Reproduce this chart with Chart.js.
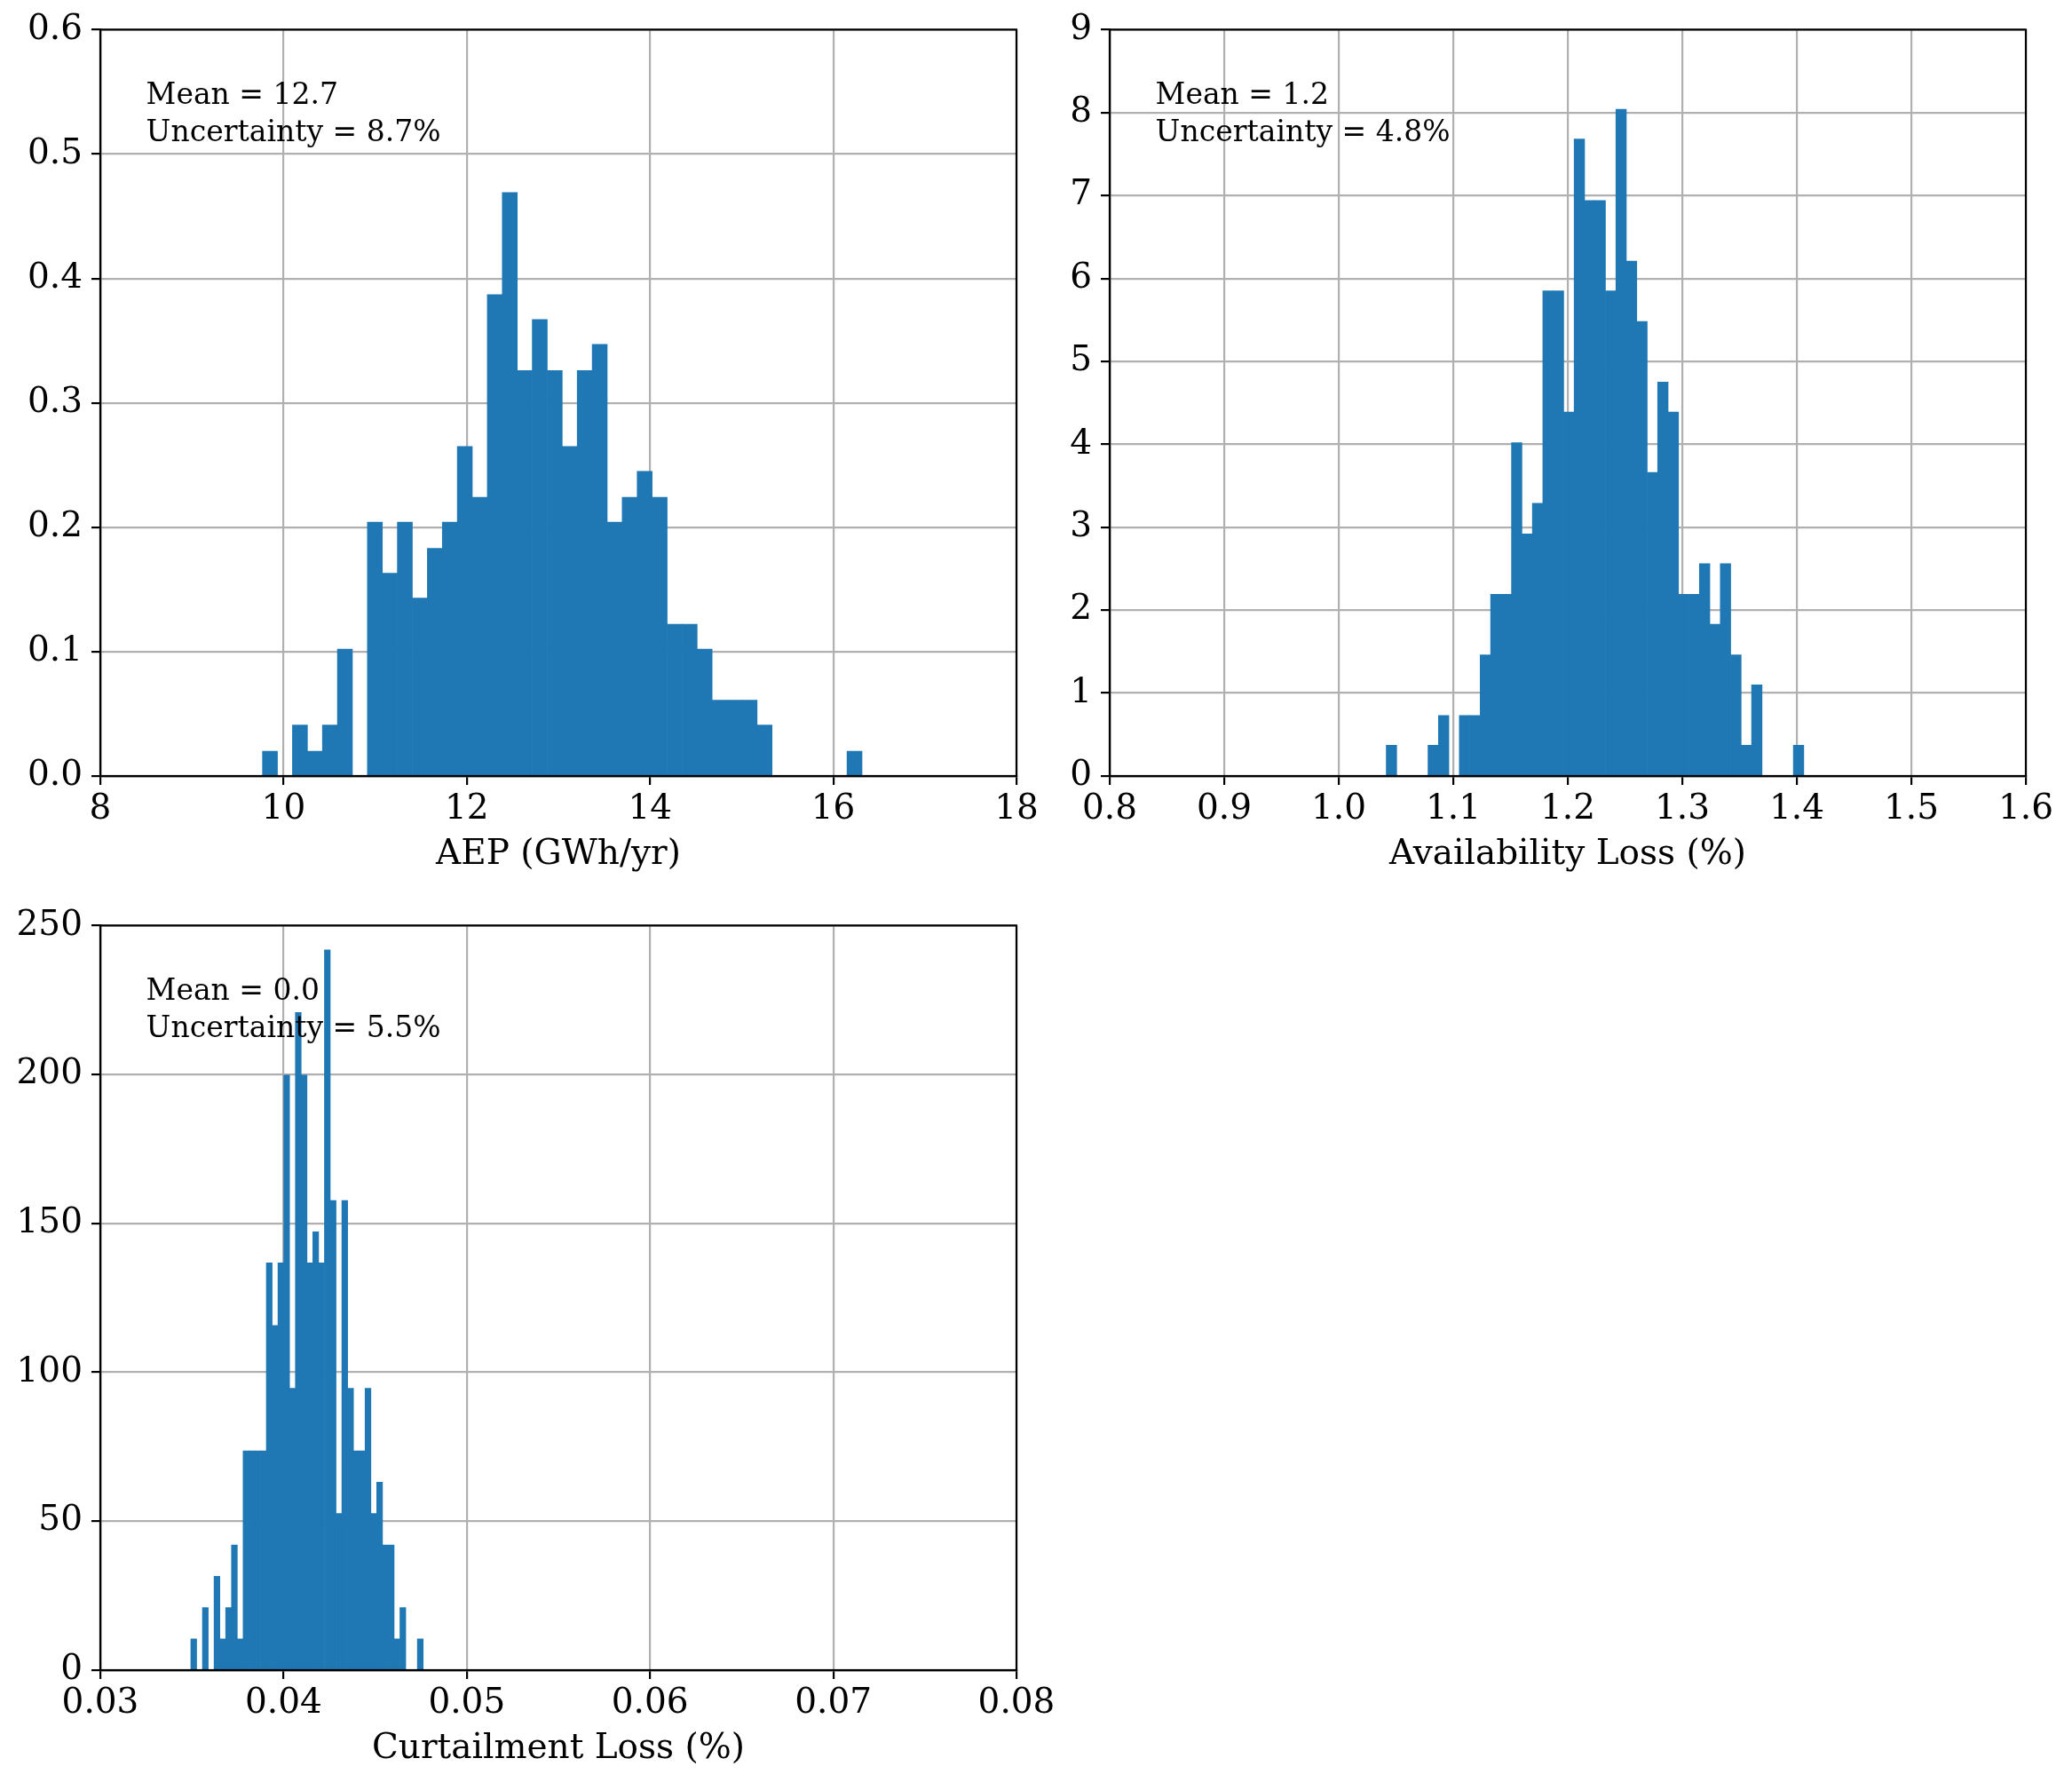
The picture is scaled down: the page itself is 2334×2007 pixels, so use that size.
<!DOCTYPE html>
<html>
<head>
<meta charset="utf-8">
<script src="https://cdn.jsdelivr.net/npm/chart.js@4.4.1/dist/chart.umd.min.js"></script>
<style>
  body { margin: 0; background: #fff; }
  #wrap { position: relative; width: 2334px; height: 2007px; background: #fff; }
  canvas { position: absolute; }
</style>
</head>
<body>
<div id="wrap">
  <canvas id="aep" width="1200" height="1000" style="left:0;top:0"></canvas>
  <canvas id="avail" width="1197" height="1000" style="left:1137px;top:0"></canvas>
  <canvas id="curt" width="1200" height="998" style="left:0;top:1009px"></canvas>
</div>
<script>
// histogram bins: first edge + bin width, then bar heights (density)
const aepStart = 9.77, aepWidth = 0.1636;
const aepHeights = [0.020, 0, 0.041, 0.020, 0.041, 0.102, 0, 0.204, 0.163, 0.204,
  0.143, 0.183, 0.204, 0.265, 0.224, 0.387, 0.469, 0.326, 0.367, 0.326,
  0.265, 0.326, 0.347, 0.204, 0.224, 0.245, 0.224, 0.122, 0.122, 0.102,
  0.061, 0.061, 0.061, 0.041, 0, 0, 0, 0, 0, 0.020];
const aepLines = ['Mean = 12.7', 'Uncertainty = 8.7%'];

const availStart = 1.0415, availWidth = 0.009115;
const availHeights = [0.37, 0, 0, 0, 0.37, 0.73, 0, 0.73, 0.73, 1.46,
  2.19, 2.19, 4.02, 2.92, 3.29, 5.85, 5.85, 4.39, 7.68, 6.94,
  6.94, 5.85, 8.04, 6.21, 5.48, 3.66, 4.75, 4.39, 2.19, 2.19,
  2.56, 1.83, 2.56, 1.46, 0.37, 1.10, 0, 0, 0, 0.37];
const availLines = ['Mean = 1.2', 'Uncertainty = 4.8%'];

const curtStart = 0.03494, curtWidth = 0.000317;
const curtHeights = [10.5, 0, 21.0, 0, 31.5, 10.5, 21.0, 42.0, 10.5, 73.6,
  73.6, 73.6, 73.6, 136.7, 115.7, 136.7, 199.8, 94.6, 220.8, 199.8,
  136.7, 147.2, 136.7, 241.8, 157.7, 52.6, 157.7, 94.6, 73.6, 73.6,
  94.6, 52.6, 63.1, 42.0, 42.0, 10.5, 21.0, 0, 0, 10.5];
const curtLines = ['Mean = 0.0', 'Uncertainty = 5.5%'];

Chart.defaults.font.family = '"DejaVu Serif", serif';
Chart.defaults.color = '#000';

function framePlugin(lines) {
  return {
    id: 'frame',
    afterDatasetsDraw(chart) {
      const ctx = chart.ctx, a = chart.chartArea;
      ctx.save();
      ctx.lineWidth = 2.2;
      ctx.strokeStyle = '#000';
      ctx.strokeRect(a.left, a.top, a.right - a.left, a.bottom - a.top);
      ctx.font = '33px "DejaVu Serif"';
      ctx.fillStyle = '#000';
      ctx.textBaseline = 'alphabetic';
      const x = a.left + 0.05 * (a.right - a.left);
      const y = a.top + 0.1 * (a.bottom - a.top);
      lines.forEach((t, i) => ctx.fillText(t, x, y + i * 42));
      ctx.restore();
    }
  };
}

function makeHist(id, o) {
  const pts = o.heights.map((h, i) => ({ x: o.start + (i + 0.5) * o.width, y: h }));
  const gridOpts = { color: '#b0b0b0', lineWidth: 2.2, tickColor: '#000', tickWidth: 2.2, tickLength: 10, offset: false };
  new Chart(document.getElementById(id), {
    type: 'bar',
    data: {
      datasets: [{
        data: pts,
        backgroundColor: '#1f77b4',
        borderWidth: 0,
        barPercentage: 1,
        categoryPercentage: 1
      }]
    },
    options: {
      responsive: false,
      animation: false,
      layout: { autoPadding: false, padding: { top: 33, right: o.padRight, left: 0, bottom: 0 } },
      plugins: { legend: { display: false }, tooltip: { enabled: false } },
      scales: {
        x: {
          type: 'linear',
          min: o.xMin, max: o.xMax,
          offset: false,
          grid: gridOpts,
          border: { color: '#000', width: 2.2 },
          ticks: {
            stepSize: o.xStep, autoSkip: false, maxRotation: 0, padding: 4,
            font: { size: 39 },
            callback: v => v.toFixed(o.xDec)
          },
          title: { display: true, text: o.xTitle, font: { size: 39 }, padding: { top: 0, bottom: 14 } },
          afterFit: s => { s.height = 126; }
        },
        y: {
          min: o.yMin, max: o.yMax,
          grid: gridOpts,
          border: { color: '#000', width: 2.2 },
          ticks: {
            stepSize: o.yStep, autoSkip: false, padding: 10,
            font: { size: 39 },
            callback: v => v.toFixed(o.yDec)
          },
          afterFit: s => { s.width = 113; }
        }
      }
    },
    plugins: [framePlugin(o.lines)]
  });
}

makeHist('aep', {
  start: aepStart, width: aepWidth, heights: aepHeights, lines: aepLines,
  xMin: 8, xMax: 18, xStep: 2, xDec: 0, xTitle: 'AEP (GWh/yr)',
  yMin: 0, yMax: 0.6, yStep: 0.1, yDec: 1, padRight: 55
});
makeHist('avail', {
  start: availStart, width: availWidth, heights: availHeights, lines: availLines,
  xMin: 0.8, xMax: 1.6, xStep: 0.1, xDec: 1, xTitle: 'Availability Loss (%)',
  yMin: 0, yMax: 9, yStep: 1, yDec: 0, padRight: 52
});
makeHist('curt', {
  start: curtStart, width: curtWidth, heights: curtHeights, lines: curtLines,
  xMin: 0.03, xMax: 0.08, xStep: 0.01, xDec: 2, xTitle: 'Curtailment Loss (%)',
  yMin: 0, yMax: 250, yStep: 50, yDec: 0, padRight: 55
});
</script>
</body>
</html>
